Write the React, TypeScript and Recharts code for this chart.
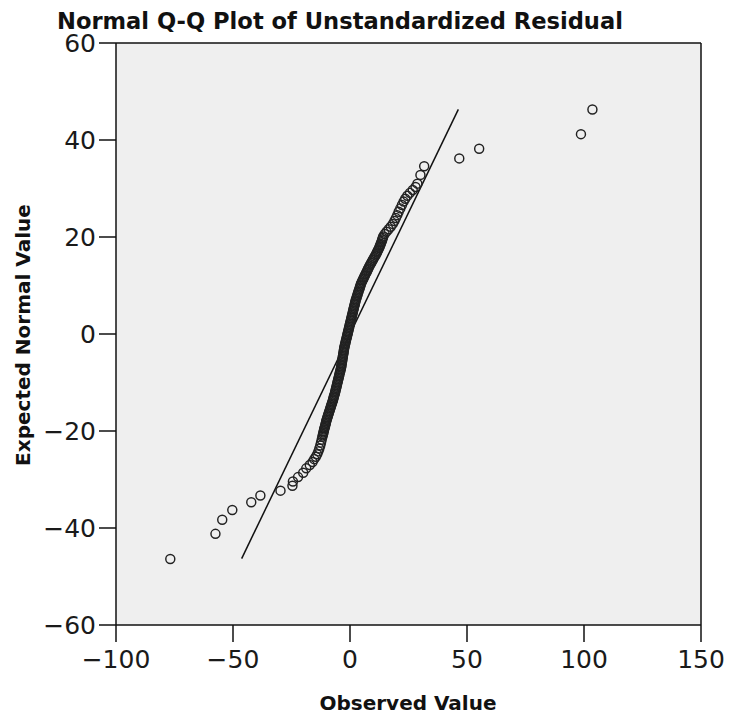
import React from "react";
import {
  ScatterChart,
  Scatter,
  XAxis,
  YAxis,
  CartesianGrid,
  ReferenceLine,
} from "recharts";

// Observed values (x) of the sorted unstandardized residuals
const observed: number[] = [
  -76.8, -57.5, -54.6, -50.3, -42.2, -38.3, -29.7, -24.6, -24.4, -22.2,
  -20.0, -18.7, -17.2, -16.0, -15.3, -14.6, -14.0, -13.5, -13.1, -12.7,
  -12.4, -12.1, -11.8, -11.5, -11.2, -10.9, -10.6, -10.3, -10.0, -9.6,
  -9.2, -8.8, -8.4, -8.0, -7.6, -7.2, -6.9, -6.5, -6.2, -5.9,
  -5.6, -5.3, -5.0, -4.7, -4.4, -4.1, -3.8, -3.6, -3.4, -3.2,
  -3.0, -2.8, -2.6, -2.4, -2.1, -1.8, -1.5, -1.2, -0.9, -0.6,
  -0.3, 0.0, 0.3, 0.6, 0.9, 1.2, 1.5, 1.8, 2.1, 2.4,
  2.8, 3.2, 3.6, 4.0, 4.4, 4.8, 5.4, 6.0, 6.6, 7.2,
  7.8, 8.4, 9.1, 9.8, 10.5, 11.2, 11.8, 12.4, 12.9, 13.4,
  13.8, 14.2, 14.8, 15.6, 16.5, 17.4, 18.3, 19.0, 19.6, 20.2,
  20.8, 21.5, 22.2, 22.9, 23.6, 24.5, 25.6, 26.8, 28.0, 28.8,
  30.1, 31.7, 46.7, 55.2, 98.7, 103.6,
];

// Expected normal values (y)
const expected: number[] = [
  -46.4, -41.2, -38.3, -36.3, -34.7, -33.3, -32.3, -31.3, -30.4, -29.5,
  -28.6, -27.7, -27.0, -26.4, -25.8, -25.3, -24.8, -24.2, -23.6, -23.0,
  -22.4, -21.8, -21.2, -20.6, -20.0, -19.4, -18.9, -18.3, -17.7, -17.1,
  -16.5, -15.9, -15.3, -14.7, -14.1, -13.5, -12.9, -12.3, -11.7, -11.1,
  -10.5, -9.9, -9.3, -8.7, -8.1, -7.5, -6.9, -6.3, -5.7, -5.1,
  -4.5, -3.9, -3.3, -2.7, -2.1, -1.5, -0.9, -0.3, 0.3, 0.9,
  1.5, 2.1, 2.7, 3.3, 3.9, 4.5, 5.1, 5.7, 6.3, 6.9,
  7.5, 8.1, 8.7, 9.3, 9.9, 10.5, 11.1, 11.7, 12.3, 12.9,
  13.5, 14.1, 14.7, 15.3, 15.9, 16.5, 17.1, 17.7, 18.3, 18.9,
  19.5, 20.1, 20.6, 21.1, 21.6, 22.1, 22.7, 23.3, 23.9, 24.5,
  25.2, 25.9, 26.6, 27.3, 27.9, 28.5, 29.1, 29.7, 30.3, 31.0,
  32.8, 34.6, 36.2, 38.2, 41.2, 46.3,
];

// Further residuals in the dense middle of the plot
const observedMid: number[] = [
  -11.65, -11.35, -11.05, -10.75, -10.45, -10.15, -9.8, -9.4, -9.0, -8.6,
  -8.2, -7.8, -7.4, -7.05, -6.7, -6.35, -6.05, -5.75, -5.45, -5.15,
  -4.85, -4.55, -4.25, -3.95, -3.7, -3.5, -3.3, -3.1, -2.9, -2.7,
  -2.5, -2.25, -1.95, -1.65, -1.35, -1.05, -0.75, -0.45, -0.15, 0.15,
  0.45, 0.75, 1.05, 1.35, 1.65, 1.95, 2.25, 2.6, 3.0, 3.4,
  3.8, 4.2, 4.6, 5.1, 5.7, 6.3, 6.9, 7.5, 8.1, 8.75,
  9.45, 10.15, 10.85, 11.5, 12.1, 12.65, 13.15, 13.6, 14.0,
];
const expectedMid: number[] = [
  -20.9, -20.3, -19.7, -19.15, -18.6, -18.0, -17.4, -16.8, -16.2, -15.6,
  -15.0, -14.4, -13.8, -13.2, -12.6, -12.0, -11.4, -10.8, -10.2, -9.6,
  -9.0, -8.4, -7.8, -7.2, -6.6, -6.0, -5.4, -4.8, -4.2, -3.6,
  -3.0, -2.4, -1.8, -1.2, -0.6, 0.0, 0.6, 1.2, 1.8, 2.4,
  3.0, 3.6, 4.2, 4.8, 5.4, 6.0, 6.6, 7.2, 7.8, 8.4,
  9.0, 9.6, 10.2, 10.8, 11.4, 12.0, 12.6, 13.2, 13.8, 14.4,
  15.0, 15.6, 16.2, 16.8, 17.4, 18.0, 18.6, 19.2, 19.8,
];

// Reference line (expected = observed) end values
const lineEnds: number[] = [-46.3, 46.3];

const xTicks: number[] = [-100, -50, 0, 50, 100, 150];
const yTicks: number[] = [-60, -40, -20, 0, 20, 40, 60];

const chartTitle = "Normal Q-Q Plot of Unstandardized Residual";
const xTitle = "Observed Value";
const yTitle = "Expected Normal Value";

const points = [
  ...observed.map((x, i) => ({ x, y: expected[i] })),
  ...observedMid.map((x, i) => ({ x, y: expectedMid[i] })),
];

const fmt = (v: number) => String(v).replace("-", "\u2212");

const tickStyle = {
  fontFamily: "'DejaVu Sans', sans-serif",
  fontSize: 25,
  fill: "#1a1a1a",
};

const Ring = (props: any) => {
  const { cx, cy } = props;
  if (cx == null || cy == null) return null;
  return (
    <circle cx={cx} cy={cy} r={4.5} fill="none" stroke="#222" strokeWidth={1.45} />
  );
};

export default function App() {
  return (
    <div style={{ position: "relative", width: 725, height: 708 }}>
      <ScatterChart
        width={725}
        height={708}
        margin={{ top: 35, right: 32, bottom: 51, left: 0 }}
      >
        <CartesianGrid
          horizontal={false}
          vertical={false}
          fill="#efefef"
          stroke="none"
        />
        <XAxis
          type="number"
          dataKey="x"
          domain={[-100, 150]}
          ticks={xTicks}
          allowDataOverflow
          height={40}
          tickSize={17}
          tickMargin={8}
          tickFormatter={fmt}
          tick={tickStyle}
          axisLine={{ stroke: "#111", strokeWidth: 1.5 }}
          tickLine={{ stroke: "#111", strokeWidth: 1.5 }}
        />
        <YAxis
          type="number"
          dataKey="y"
          domain={[-60, 60]}
          ticks={yTicks}
          allowDataOverflow
          width={108}
          tickSize={17}
          tickMargin={3}
          tickFormatter={fmt}
          tick={tickStyle}
          axisLine={{ stroke: "#111", strokeWidth: 1.5 }}
          tickLine={{ stroke: "#111", strokeWidth: 1.5 }}
        />
        <ReferenceLine y={60} stroke="#111" strokeWidth={1.5} />
        <ReferenceLine x={150} stroke="#111" strokeWidth={1.5} />
        <ReferenceLine
          segment={[
            { x: lineEnds[0], y: lineEnds[0] },
            { x: lineEnds[1], y: lineEnds[1] },
          ]}
          stroke="#111"
          strokeWidth={1.5}
        />
        <Scatter data={points} shape={Ring} isAnimationActive={false} />
      </ScatterChart>
      <div
        style={{
          position: "absolute",
          left: 49,
          top: 2,
          fontFamily: "'DejaVu Sans', sans-serif",
          fontWeight: "bold",
          fontSize: 22.6,
          color: "#111",
          whiteSpace: "nowrap",
          lineHeight: "22px",
        }}
      >
        {chartTitle}
      </div>
      <div
        style={{
          position: "absolute",
          left: 0,
          width: 800,
          top: 684,
          textAlign: "center",
          fontFamily: "'DejaVu Sans', sans-serif",
          fontWeight: "bold",
          fontSize: 20,
          color: "#111",
          whiteSpace: "nowrap",
          lineHeight: "22px",
        }}
      >
        {xTitle}
      </div>
      <div
        style={{
          position: "absolute",
          left: 15 - 150,
          top: 327 - 11,
          width: 300,
          textAlign: "center",
          transform: "rotate(-90deg)",
          transformOrigin: "150px 11px",
          fontFamily: "'DejaVu Sans', sans-serif",
          fontWeight: "bold",
          fontSize: 20,
          color: "#111",
          whiteSpace: "nowrap",
          lineHeight: "22px",
        }}
      >
        {yTitle}
      </div>
    </div>
  );
}
